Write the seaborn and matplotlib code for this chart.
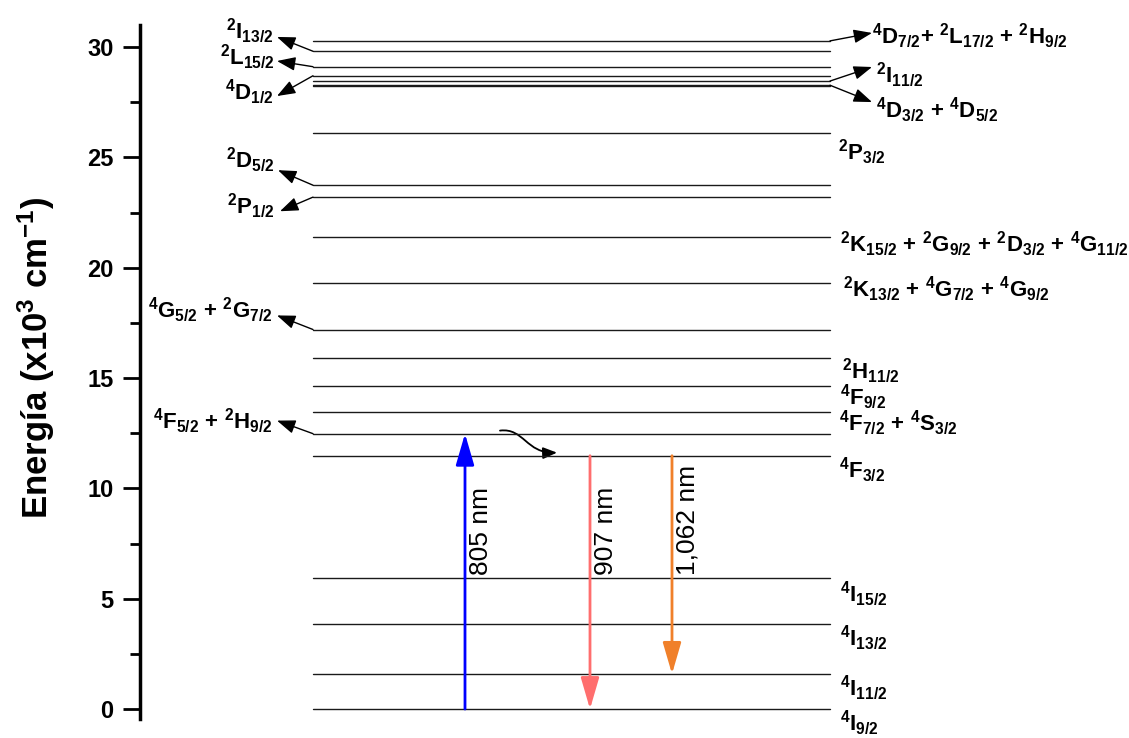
import numpy as np
import pandas as pd
import matplotlib
matplotlib.use("Agg")
import matplotlib.pyplot as plt
import seaborn as sns
from matplotlib.patches import FancyArrowPatch
from matplotlib.path import Path

# ---------------- data ----------------
# energy levels (x10^3 cm^-1)
level_energies = [0.0, 1.59, 3.86, 5.95, 11.48, 12.48, 13.44, 14.66, 15.89,
                  17.20, 19.29, 21.38, 23.20, 23.74, 26.10, 28.24, 28.30,
                  28.46, 28.70, 29.11, 29.81, 30.28]

right_labels = [r"$^{4}$D$_{7/2}$+ $^{2}$L$_{17/2}$ + $^{2}$H$_{9/2}$",
                r"$^{2}$I$_{11/2}$",
                r"$^{4}$D$_{3/2}$ + $^{4}$D$_{5/2}$",
                r"$^{2}$P$_{3/2}$",
                r"$^{2}$K$_{15/2}$ + $^{2}$G$_{9/2}$ + $^{2}$D$_{3/2}$ + $^{4}$G$_{11/2}$",
                r"$^{2}$K$_{13/2}$ + $^{4}$G$_{7/2}$ + $^{4}$G$_{9/2}$",
                r"$^{2}$H$_{11/2}$",
                r"$^{4}$F$_{9/2}$",
                r"$^{4}$F$_{7/2}$ + $^{4}$S$_{3/2}$",
                r"$^{4}$F$_{3/2}$",
                r"$^{4}$I$_{15/2}$",
                r"$^{4}$I$_{13/2}$",
                r"$^{4}$I$_{11/2}$",
                r"$^{4}$I$_{9/2}$"]
left_labels = [r"$^{2}$I$_{13/2}$",
               r"$^{2}$L$_{15/2}$",
               r"$^{4}$D$_{1/2}$",
               r"$^{2}$D$_{5/2}$",
               r"$^{2}$P$_{1/2}$",
               r"$^{4}$G$_{5/2}$ + $^{2}$G$_{7/2}$",
               r"$^{4}$F$_{5/2}$ + $^{2}$H$_{9/2}$"]

# energies of the levels that the pointer arrows start from
left_arrow_levels = [29.81, 29.11, 28.70, 23.74, 23.20, 17.20, 12.48]
right_arrow_levels = [30.28, 28.46, 28.27]

# transitions
trans_names = ["805 nm", "907 nm", "1,062 nm"]
trans_start = [0.0, 11.48, 11.48]
trans_end = [12.48, 0.0, 1.59]
trans_colors = ["#0000FF", "#FF6E6E", "#F0802A"]

yticks_major = [0, 5, 10, 15, 20, 25, 30]

# ---------------- layout helpers ----------------
PX_PER_UNIT = 22.03
Y0_PX = 708.0
AX_LEFT_PX = 140.0
AX_W_PX = 989.0


def ey(px):
    """pixel row -> energy"""
    return (Y0_PX - px) / PX_PER_UNIT


def ex(px):
    """pixel column -> axes x (0..1)"""
    return (px - AX_LEFT_PX) / AX_W_PX


right_label_pos = [(872, 44), (876, 83), (876, 118), (838, 160), (840, 252),
                   (843, 297), (842, 378), (840, 404), (839, 430), (839, 477),
                   (840, 601), (840, 645), (840, 695), (840, 730)]
left_label_pos = [(274, 39), (275, 65), (274, 100), (275, 168), (275, 214),
                  (273, 317), (273, 428)]
left_arrow_tips = [(277, 37), (277, 61), (277, 96), (278, 170), (280, 211),
                   (277, 315), (277, 420)]
right_arrow_tips = [(872, 33), (872, 67), (872, 102)]

LINE_X0, LINE_X1 = ex(313), ex(830)

# ---------------- style ----------------
sns.set_theme(style="ticks")
plt.rcParams["font.family"] = ["Liberation Sans", "DejaVu Sans"]
plt.rcParams["mathtext.default"] = "regular"
for k in ["text.color", "axes.labelcolor", "ytick.color", "xtick.color",
          "axes.edgecolor"]:
    plt.rcParams[k] = "black"

fig = plt.figure(figsize=(11.29, 7.38), dpi=100)
ax = fig.add_axes([AX_LEFT_PX / 1129, (738 - 719) / 738,
                   AX_W_PX / 1129, (719 - 25) / 738])

# energy levels via seaborn
rows = []
for i, e in enumerate(level_energies):
    rows.append({"x": LINE_X0, "E": e, "lvl": i})
    rows.append({"x": LINE_X1, "E": e, "lvl": i})
df = pd.DataFrame(rows)
sns.lineplot(data=df, x="x", y="E", units="lvl", estimator=None,
             color="#1a1a1a", linewidth=1.0, ax=ax, legend=False)

ax.set_xlim(0, 1)
ax.set_ylim(-0.45, 31.0)

LABEL_FS = 16
for txt, (px, py) in zip(right_labels, right_label_pos):
    ax.text(ex(px), ey(py), txt, ha="left", va="baseline", fontsize=LABEL_FS,
            fontweight="bold", clip_on=False)
for txt, (px, py) in zip(left_labels, left_label_pos):
    ax.text(ex(px), ey(py), txt, ha="right", va="baseline", fontsize=LABEL_FS,
            fontweight="bold", clip_on=False)

ptr_style = "-|>,head_length=0.8,head_width=0.3"
for lev, (tx, ty) in zip(left_arrow_levels, left_arrow_tips):
    ax.annotate("", xy=(ex(tx), ey(ty)), xytext=(LINE_X0, lev),
                arrowprops=dict(arrowstyle=ptr_style, color="black", lw=1.0,
                                mutation_scale=14, shrinkA=0, shrinkB=0))
for lev, (tx, ty) in zip(right_arrow_levels, right_arrow_tips):
    ax.annotate("", xy=(ex(tx), ey(ty)), xytext=(LINE_X1, lev),
                arrowprops=dict(arrowstyle=ptr_style, color="black", lw=1.0,
                                mutation_scale=14, shrinkA=0, shrinkB=0))

# transitions
trans_x = [ex(465), ex(590), ex(672)]
text_x = [ex(469), ex(594), ex(676)]
tr_style = "-|>,head_length=1.2,head_width=0.35"
for x, s, e, c, name, tx in zip(trans_x, trans_start, trans_end, trans_colors,
                                trans_names, text_x):
    ax.annotate("", xy=(x, e), xytext=(x, s),
                arrowprops=dict(arrowstyle=tr_style, color=c, lw=2.0,
                                mutation_scale=16, shrinkA=0, shrinkB=0))
    ax.text(tx, ey(574), name, rotation=90, ha="left", va="bottom",
            fontsize=19, color="black")

# non-radiative wavy arrow
verts = [(ex(500), ey(430)), (ex(524), ey(427)), (ex(526), ey(453)),
         (ex(557), ey(452))]
codes = [Path.MOVETO, Path.CURVE4, Path.CURVE4, Path.CURVE4]
wavy = FancyArrowPatch(path=Path(verts, codes),
                       arrowstyle="-|>,head_length=0.6,head_width=0.25",
                       mutation_scale=14, color="black", lw=1.3)
ax.add_patch(wavy)

# axes styling
for s in ["top", "right", "bottom"]:
    ax.spines[s].set_visible(False)
ax.spines["left"].set_linewidth(2.5)
ax.set_xticks([])
ax.set_yticks(yticks_major)
ax.set_yticks([2.5, 7.5, 12.5, 17.5, 22.5, 27.5], minor=True)
ax.tick_params(axis="y", which="major", length=12, width=2, pad=7,
               labelsize=17, direction="out", colors="black")
ax.tick_params(axis="y", which="minor", length=7, width=2, direction="out",
               colors="black")
for lab in ax.get_yticklabels():
    lab.set_fontweight("bold")
ax.set_xlabel("")
ax.set_ylabel(r"Energía (x10$^{3}$ cm$^{-1}$)", fontsize=25,
              fontweight="bold", color="black")
ax.yaxis.set_label_coords(-0.084, 0.52)
ax.patch.set_alpha(0)

fig.savefig("out.png", dpi=100)
